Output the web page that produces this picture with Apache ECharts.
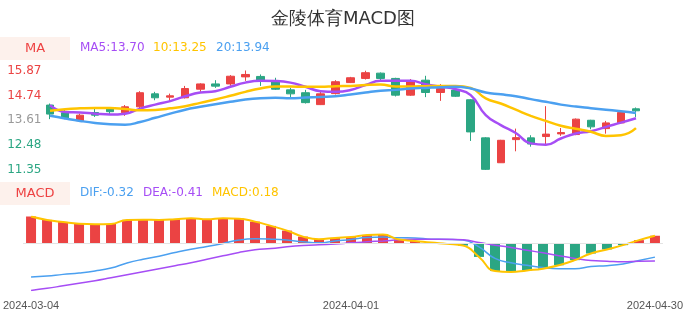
<!DOCTYPE html>
<html>
<head>
<meta charset="utf-8">
<title>金陵体育MACD图</title>
<script src="https://cdn.jsdelivr.net/npm/echarts@6/dist/echarts.min.js"></script>
<style>
  html, body { margin: 0; padding: 0; background: #fff; }
  #main { width: 686px; height: 320px; }
</style>
</head>
<body>
<div id="main"></div>
<script>
// 交易日
let dates = [
  '2024-03-04', '2024-03-05', '2024-03-06', '2024-03-07', '2024-03-08',
  '2024-03-11', '2024-03-12', '2024-03-13', '2024-03-14', '2024-03-15',
  '2024-03-18', '2024-03-19', '2024-03-20', '2024-03-21', '2024-03-22',
  '2024-03-25', '2024-03-26', '2024-03-27', '2024-03-28', '2024-03-29',
  '2024-04-01', '2024-04-02', '2024-04-03', '2024-04-08', '2024-04-09',
  '2024-04-10', '2024-04-11', '2024-04-12', '2024-04-15', '2024-04-16',
  '2024-04-17', '2024-04-18', '2024-04-19', '2024-04-22', '2024-04-23',
  '2024-04-24', '2024-04-25', '2024-04-26', '2024-04-29', '2024-04-30'
]

// K线 [开, 收, 低, 高]
let kData = [
  [14.30, 13.89, 13.66, 14.37], [13.95, 13.69, 13.66, 14.07], [13.59, 13.84, 13.57, 13.91],
  [13.96, 13.84, 13.76, 14.14], [14.13, 14.00, 13.87, 14.16], [13.95, 14.22, 13.81, 14.30],
  [14.22, 14.86, 14.14, 14.93], [14.81, 14.63, 14.52, 14.90], [14.66, 14.72, 14.48, 14.82],
  [14.63, 15.05, 14.60, 15.17], [15.02, 15.26, 14.90, 15.29], [15.26, 15.16, 15.08, 15.43],
  [15.26, 15.61, 15.17, 15.66], [15.58, 15.69, 15.40, 15.87], [15.60, 15.39, 15.17, 15.69],
  [15.39, 15.02, 14.99, 15.54], [14.99, 14.81, 14.63, 15.08], [14.86, 14.41, 14.37, 14.99],
  [14.32, 14.81, 14.30, 14.98], [14.82, 15.36, 14.78, 15.43], [15.32, 15.54, 15.30, 15.58],
  [15.51, 15.77, 15.46, 15.86], [15.75, 15.51, 15.40, 15.78], [15.51, 14.75, 14.69, 15.54],
  [14.75, 15.39, 14.72, 15.48], [15.43, 14.87, 14.66, 15.63], [14.87, 15.05, 14.49, 15.25],
  [14.98, 14.70, 14.67, 15.08], [14.54, 13.08, 12.67, 14.57], [12.81, 11.38, 11.35, 12.84],
  [11.68, 12.70, 11.67, 12.72], [12.73, 12.82, 12.20, 13.23], [12.81, 12.53, 12.41, 12.93],
  [12.87, 12.98, 12.53, 14.25], [12.99, 13.05, 12.90, 13.26], [12.96, 13.66, 12.93, 13.69],
  [13.61, 13.31, 13.20, 13.63], [13.23, 13.49, 13.00, 13.58], [13.49, 13.96, 13.46, 13.99],
  [14.13, 14.04, 13.76, 14.19]
]

// 均线
let ma5 = [
  14.29, 13.99, 13.96, 13.91, 13.87, 13.91, 14.14, 14.32, 14.48, 14.70,
  14.87, 14.93, 15.13, 15.32, 15.40, 15.39, 15.32, 15.13, 14.93, 14.90,
  14.98, 15.21, 15.40, 15.40, 15.40, 15.25, 15.13, 15.02, 14.75, 13.84,
  13.39, 13.03, 12.56, 12.50, 12.78, 13.01, 13.11, 13.31, 13.50, 13.70
]
let ma10 = [
  14.04, 14.11, 14.15, 14.17, 14.17, 14.12, 14.06, 14.08, 14.15, 14.25,
  14.40, 14.55, 14.72, 14.90, 15.05, 15.14, 15.14, 15.13, 15.13, 15.16,
  15.17, 15.21, 15.23, 15.14, 15.14, 15.16, 15.17, 15.17, 15.08, 14.60,
  14.37, 14.09, 13.81, 13.58, 13.36, 13.22, 13.09, 12.90, 12.93, 13.25
]
let ma20 = [
  13.81, 13.69, 13.58, 13.49, 13.43, 13.41, 13.53, 13.72, 13.91, 14.09,
  14.22, 14.34, 14.45, 14.55, 14.61, 14.63, 14.61, 14.64, 14.67, 14.70,
  14.78, 14.87, 14.95, 14.99, 15.05, 15.08, 15.11, 15.13, 15.05, 14.87,
  14.79, 14.70, 14.57, 14.45, 14.32, 14.23, 14.16, 14.09, 14.02, 13.94
]

// MACD
let dif = [
  -0.787, -0.763, -0.723, -0.692, -0.645, -0.575, -0.457, -0.37, -0.30, -0.212,
  -0.134, -0.071, 0.0, 0.08, 0.108, 0.10, 0.078, 0.038, 0.014, 0.06,
  0.094, 0.141, 0.148, 0.132, 0.13, 0.10, 0.094, 0.078, -0.08, -0.35,
  -0.45, -0.51, -0.565, -0.59, -0.59, -0.54, -0.52, -0.48, -0.40, -0.32
]
let dea = [
  -1.10, -1.05, -0.99, -0.93, -0.87, -0.80, -0.73, -0.66, -0.59, -0.52,
  -0.45, -0.37, -0.29, -0.21, -0.15, -0.12, -0.08, -0.05, -0.03, -0.015,
  0.014, 0.038, 0.06, 0.085, 0.10, 0.10, 0.10, 0.085, 0.024, -0.04,
  -0.094, -0.158, -0.22, -0.29, -0.35, -0.40, -0.417, -0.43, -0.417, -0.41
]
let macd = [
  0.63, 0.55, 0.50, 0.46, 0.45, 0.455, 0.55, 0.556, 0.55, 0.565,
  0.59, 0.565, 0.59, 0.58, 0.51, 0.41, 0.30, 0.16, 0.10, 0.13,
  0.15, 0.20, 0.21, 0.09, 0.06, 0.02, -0.01, -0.05, -0.315, -0.645,
  -0.67, -0.63, -0.59, -0.51, -0.39, -0.236, -0.14, -0.04, 0.078, 0.18
]

const RED = '#eb4343'
const GREEN = '#2ba683'
const PURPLE = '#a64df5'
const YELLOW = '#ffc400'
const BLUE = '#4ba0f0'
const FONT = '"DejaVu Sans", sans-serif'

// K线图纵轴：最低价到最高价，均分四段
let lowMin = Math.min(...kData.map(d => d[2]))
let highMax = Math.max(...kData.map(d => d[3]))
let step = (highMax - lowMin) / 4
let priceTicks = [0, 1, 2, 3, 4].map(i => lowMin + step * i)
let midPrice = lowMin + step * 2

// MACD 纵轴范围
let macdMin = Math.min(...dif, ...dea, ...macd)
let macdMax = Math.max(...dif, ...dea, ...macd)

let last = dates.length - 1

function legendText(x, y, text, color) {
  return {
    type: 'text', left: x, top: y,
    style: { text: text, fill: color, font: '12px ' + FONT }
  }
}

function tagBox(y, text) {
  return {
    type: 'group', left: 0, top: y,
    children: [
      { type: 'rect', shape: { x: 0, y: 0, width: 70, height: 23 }, style: { fill: '#fdf1ec' } },
      {
        type: 'text', x: 35, y: 11.5,
        style: { text: text, fill: '#ee4242', font: '13px ' + FONT, textAlign: 'center', textVerticalAlign: 'middle' }
      }
    ]
  }
}

let chart = echarts.init(document.getElementById('main'))
chart.setOption({
  animation: false,
  textStyle: { fontFamily: FONT },
  title: {
    text: '金陵体育MACD图',
    left: 'center',
    top: 5,
    textStyle: { fontSize: 18, fontWeight: 'normal', color: '#333' }
  },
  graphic: [
    tagBox(37, 'MA'),
    legendText(80, 42, 'MA5:' + ma5[last].toFixed(2), PURPLE),
    legendText(153, 42, '10:' + ma10[last].toFixed(2), YELLOW),
    legendText(216, 42, '20:' + ma20[last].toFixed(2), BLUE),
    tagBox(182, 'MACD'),
    legendText(80, 187, 'DIF:' + dif[last].toFixed(2), BLUE),
    legendText(143, 187, 'DEA:' + dea[last].toFixed(2), PURPLE),
    legendText(212, 187, 'MACD:' + macd[last].toFixed(2), YELLOW)
  ],
  grid: [
    { left: 42.5, right: 42.5, top: 70.5, height: 99.5 },
    { left: 19, right: 20, top: 216.5, height: 74 }
  ],
  xAxis: [
    {
      type: 'category', gridIndex: 0, data: dates, boundaryGap: true,
      axisLine: { show: false }, axisTick: { show: false }, axisLabel: { show: false }, splitLine: { show: false }
    },
    {
      type: 'category', gridIndex: 1, data: dates, boundaryGap: true,
      axisLine: { show: false, onZero: false }, axisTick: { show: false }, splitLine: { show: false },
      axisLabel: {
        color: '#555', fontSize: 11, fontFamily: '"Liberation Sans", sans-serif', margin: 10,
        interval: (i) => i === 0 || i === Math.floor(dates.length / 2) || i === last
      }
    }
  ],
  yAxis: [
    {
      type: 'value', gridIndex: 0, min: lowMin, max: highMax, scale: true,
      axisLine: { show: false }, axisTick: { show: false }, splitLine: { show: false },
      axisLabel: {
        margin: 1,
        customValues: priceTicks,
        formatter: function (v) {
          let s = v.toFixed(2)
          if (Math.abs(v - midPrice) < 0.001) return '{mid|' + s + '}'
          return v > midPrice ? '{up|' + s + '}' : '{down|' + s + '}'
        },
        rich: {
          up: { color: RED, fontSize: 12, fontFamily: FONT },
          mid: { color: '#999', fontSize: 12, fontFamily: FONT },
          down: { color: GREEN, fontSize: 12, fontFamily: FONT }
        }
      }
    },
    {
      type: 'value', gridIndex: 1, min: macdMin, max: macdMax,
      axisLine: { show: false }, axisTick: { show: false }, splitLine: { show: false }, axisLabel: { show: false }
    }
  ],
  series: [
    {
      name: 'K', type: 'candlestick', xAxisIndex: 0, yAxisIndex: 0, data: kData, barWidth: 8,
      itemStyle: { color: RED, color0: GREEN, borderColor: RED, borderColor0: GREEN, borderWidth: 1 }
    },
    {
      name: 'MA5', type: 'line', xAxisIndex: 0, yAxisIndex: 0, data: ma5, smooth: true, showSymbol: false,
      lineStyle: { color: PURPLE, width: 2.5 }
    },
    {
      name: 'MA10', type: 'line', xAxisIndex: 0, yAxisIndex: 0, data: ma10, smooth: true, showSymbol: false,
      lineStyle: { color: YELLOW, width: 2.5 }
    },
    {
      name: 'MA20', type: 'line', xAxisIndex: 0, yAxisIndex: 0, data: ma20, smooth: true, showSymbol: false,
      lineStyle: { color: BLUE, width: 2.5 }
    },
    {
      name: 'MACD', type: 'bar', xAxisIndex: 1, yAxisIndex: 1, data: macd, barWidth: 10,
      itemStyle: { color: (p) => p.value >= 0 ? RED : GREEN },
      markLine: {
        silent: true, symbol: ['none', 'none'], label: { show: false },
        lineStyle: { color: '#e3e3e3', width: 1, type: 'solid' },
        data: [{ yAxis: 0 }]
      }
    },
    {
      name: 'DIF', type: 'line', xAxisIndex: 1, yAxisIndex: 1, data: dif, smooth: true, showSymbol: false,
      lineStyle: { color: BLUE, width: 1.5 }
    },
    {
      name: 'DEA', type: 'line', xAxisIndex: 1, yAxisIndex: 1, data: dea, smooth: true, showSymbol: false,
      lineStyle: { color: PURPLE, width: 1.5 }
    },
    {
      name: 'MACDLine', type: 'line', xAxisIndex: 1, yAxisIndex: 1, data: macd, smooth: true, showSymbol: false,
      lineStyle: { color: YELLOW, width: 2 }
    }
  ]
})
</script>
</body>
</html>
